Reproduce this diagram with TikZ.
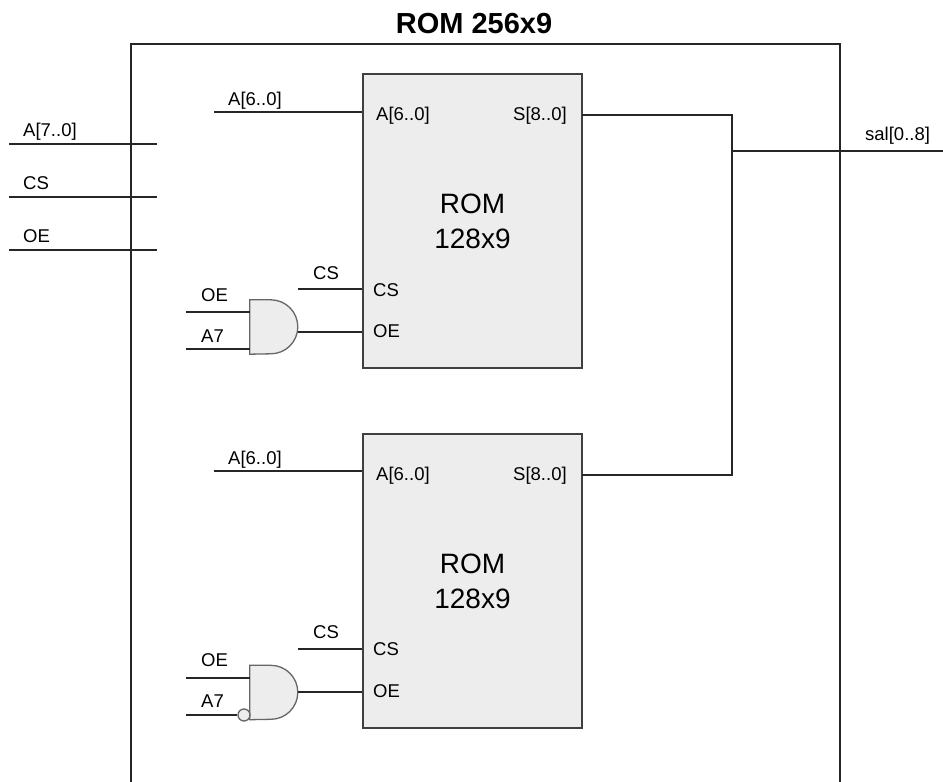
\documentclass[tikz,border=0pt]{standalone}
\usepackage{fontspec}
\setmainfont{Liberation Sans}
\tikzset{
  wire/.style={line width=1.3pt, draw=black!85},
  rom/.style={draw=black!75, line width=1.3pt, fill=black!7, rectangle, minimum width=219pt, minimum height=294pt, inner sep=0pt, align=center, font=\fontsize{28}{35}\selectfont},
  gatebox/.style={rectangle, minimum width=48pt, minimum height=54pt, inner sep=0pt},
  gateline/.style={draw=black!60, line width=1.3pt, fill=black!7},
  bubble/.style={circle, draw=black!60, line width=1.3pt, fill=black!7, minimum size=12pt, inner sep=0pt},
  lbl/.style={font=\fontsize{18.5}{22}\selectfont, inner sep=0pt, anchor=base west}
}
\begin{document}
\begin{tikzpicture}[x=1pt,y=-1pt]
\useasboundingbox (0,0) rectangle (943,782);
\node[font=\bfseries\fontsize{29}{35}\selectfont, inner sep=0pt, anchor=base] (title) at (474,33) {ROM 256x9};
% outer box, open at the bottom
\coordinate (outerbl) at (131,782);
\coordinate (outertl) at (131,44);
\coordinate (outertr) at (840,44);
\coordinate (outerbr) at (840,782);
\draw[wire] (outerbl) -- (outertl) -- (outertr) -- (outerbr);
% global inputs
\coordinate (ina) at (9,144);   \coordinate (inaend) at (157,144);
\coordinate (incs) at (9,197);  \coordinate (incsend) at (157,197);
\coordinate (inoe) at (9,250);  \coordinate (inoeend) at (157,250);
\draw[wire] (ina) -- (inaend);
\draw[wire] (incs) -- (incsend);
\draw[wire] (inoe) -- (inoeend);
\node[lbl] (lina) at (23,136) {A[7..0]};
\node[lbl] (lincs) at (23,189) {CS};
\node[lbl] (linoe) at (23,242) {OE};
% upper ROM
\node[rom] (rom1) at (472.5,221) {ROM\\128x9};
\node[lbl] (pa1) at (376,120) {A[6..0]};
\node[lbl] (ps1) at (513,120) {S[8..0]};
\node[lbl] (pcs1) at (373,296) {CS};
\node[lbl] (poe1) at (373,337) {OE};
\coordinate (a1) at (214,112);
\coordinate (cs1) at (298,289);
\coordinate (s1) at (582,115);
\node[lbl] (la1) at (228,105) {A[6..0]};
\node[lbl] (lcs1) at (313,279) {CS};
\draw[wire] (a1) -- (a1 -| rom1.west);
\draw[wire] (cs1) -- (cs1 -| rom1.west);
\node[gatebox] (gate1) at (274,327) {};
\draw[gateline] (gate1.north west) -- ++(21,0) arc (-90:90:27) -- (gate1.south west) -- cycle;
\coordinate (oe1) at (186,312);
\coordinate (b1) at (186,349);
\coordinate (out1) at (298,332);
\node[lbl] (loe1) at (201,301) {OE};
\node[lbl] (lb1) at (201,342) {A7};
\draw[wire] (oe1) -- (oe1 -| gate1.west);
\draw[wire] (b1) -- (b1 -| gate1.west);
\draw[wire] (out1) -- (out1 -| rom1.west);
% lower ROM
\node[rom] (rom2) at (472.5,581) {ROM\\128x9};
\node[lbl] (pa2) at (376,480) {A[6..0]};
\node[lbl] (ps2) at (513,480) {S[8..0]};
\node[lbl] (pcs2) at (373,655) {CS};
\node[lbl] (poe2) at (373,697) {OE};
\coordinate (a2) at (214,471);
\coordinate (cs2) at (298,649);
\coordinate (s2) at (582,475);
\node[lbl] (la2) at (228,464) {A[6..0]};
\node[lbl] (lcs2) at (313,638) {CS};
\draw[wire] (a2) -- (a2 -| rom2.west);
\draw[wire] (cs2) -- (cs2 -| rom2.west);
\node[gatebox] (gate2) at (274,692.5) {};
\draw[gateline] (gate2.north west) -- ++(21,0) arc (-90:90:27) -- (gate2.south west) -- cycle;
\coordinate (oe2) at (186,678);
\coordinate (b2) at (186,715);
\coordinate (out2) at (298,692);
\node[lbl] (loe2) at (201,666) {OE};
\node[lbl] (lb2) at (201,707) {A7};
\node[bubble] (inv2) at (244,715) {};
\draw[wire] (oe2) -- (oe2 -| gate2.west);
\draw[wire] (b2) -- (inv2);
\draw[wire] (out2) -- (out2 -| rom2.west);
% outputs
\coordinate (join1) at (732,115);
\coordinate (join2) at (732,475);
\coordinate (tee) at (732,151);
\coordinate (sal) at (943,151);
\draw[wire] (s1) -- (join1) -- (join2) -- (s2);
\draw[wire] (tee) -- (sal);
\node[lbl] (lsal) at (865,140) {sal[0..8]};
\end{tikzpicture}
\end{document}
